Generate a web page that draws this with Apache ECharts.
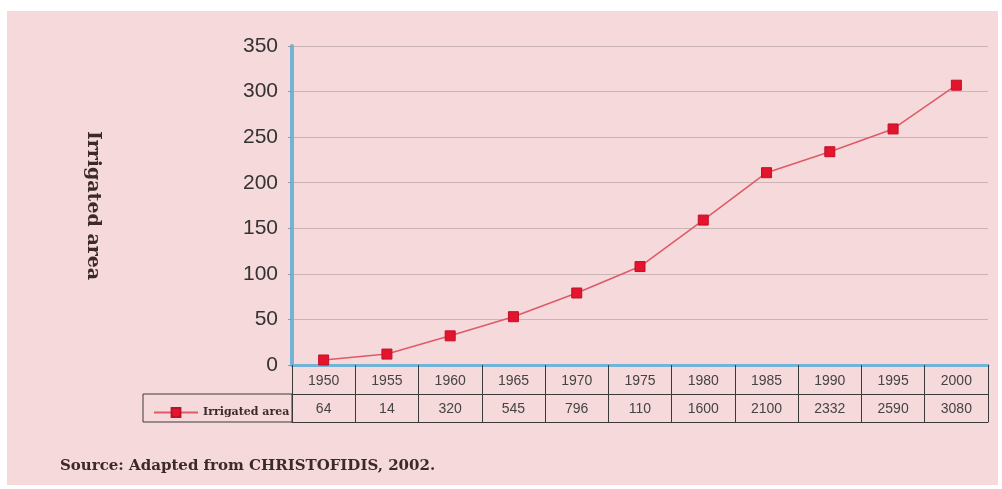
<!DOCTYPE html>
<html>
<head>
<meta charset="utf-8">
<script src="https://cdn.jsdelivr.net/npm/echarts@6/dist/echarts.min.js"></script>
<style>
html,body{margin:0;padding:0;background:#fff;}
#bg{position:absolute;left:7px;top:11px;width:991px;height:474px;background:#f6d9db;}
#chart{position:absolute;left:0;top:0;width:1002px;height:489px;}
</style>
</head>
<body>
<div id="bg"></div>
<div id="chart"></div>
<script>
var years = ['1950','1955','1960','1965','1970','1975','1980','1985','1990','1995','2000'];
var plotted = [5.5, 12, 32, 53, 79, 108, 159, 211, 234, 259, 307];
var tableValues = ['64','14','320','545','796','110','1600','2100','2332','2590','3080'];
var seriesName = 'Irrigated area';
var yTitle = 'Irrigated area';
var sourceText = 'Source: Adapted from CHRISTOFIDIS, 2002.';

var chart = echarts.init(document.getElementById('chart'), null, {renderer:'canvas'});
var serif = '"DejaVu Serif", "Liberation Serif", serif';
var sans = '"Liberation Sans", Arial, sans-serif';
chart.setOption({
  backgroundColor: 'transparent',
  animation: false,
  grid: {left: 292, right: 14, top: 46, bottom: 124, containLabel: false},
  legend: {
    data: [seriesName],
    left: 148, top: 402,
    itemWidth: 44, itemHeight: 11, itemGap: 4,
    textStyle: {fontFamily: serif, fontWeight: 'bold', fontSize: 11, color: '#3a2a2a'}
  },
  xAxis: [
    {
      type: 'category', data: years, position: 'bottom', boundaryGap: true,
      axisLine: {show: true, lineStyle: {color: '#72b3d8', width: 3}},
      axisTick: {show: true, interval: 0, length: 57, lineStyle: {color: '#3a3a3a', width: 1}},
      axisLabel: {interval: 0, margin: 9, fontFamily: sans, fontSize: 14, color: '#444'},
      splitLine: {show: false}
    },
    {
      type: 'category', data: tableValues, position: 'bottom', offset: 29, boundaryGap: true,
      axisLine: {show: true, lineStyle: {color: '#3a3a3a', width: 1}},
      axisTick: {show: false},
      axisLabel: {interval: 0, margin: 8, fontFamily: sans, fontSize: 14, color: '#444'},
      splitLine: {show: false}
    },
    {
      type: 'category', data: years, position: 'bottom', offset: 57, boundaryGap: true,
      axisLine: {show: true, lineStyle: {color: '#3a3a3a', width: 1}},
      axisTick: {show: false}, axisLabel: {show: false}, splitLine: {show: false}
    }
  ],
  yAxis: {
    type: 'value', min: 0, max: 350, interval: 50,
    name: yTitle, nameLocation: 'middle', nameRotate: -90, nameGap: 190,
    nameTextStyle: {fontFamily: serif, fontWeight: 'bold', fontSize: 19, color: '#3a2a2a'},
    axisLine: {show: true, lineStyle: {color: '#72b3d8', width: 4}},
    axisTick: {show: true, length: 4, lineStyle: {color: '#9a9a9a'}},
    axisLabel: {margin: 14, fontFamily: sans, fontSize: 21, color: '#333'},
    splitLine: {show: true, lineStyle: {color: '#cbb4b5', width: 1}}
  },
  graphic: [
    {type: 'rect', shape: {x: 143, y: 394, width: 149, height: 28}, style: {fill: 'none', stroke: '#3a3a3a', lineWidth: 1}, z: 10},
    {type: 'text', left: 60, top: 459, style: {text: sourceText, font: 'bold 15px ' + serif, fill: '#3a2a2a'}}
  ],
  series: [{
    name: seriesName, type: 'line', data: plotted, xAxisIndex: 0,
    symbol: 'rect', symbolSize: 10,
    lineStyle: {color: '#de5a68', width: 1.5},
    itemStyle: {color: '#e3142c', borderColor: '#c0102a', borderWidth: 1}
  }]
});
</script>
</body>
</html>
